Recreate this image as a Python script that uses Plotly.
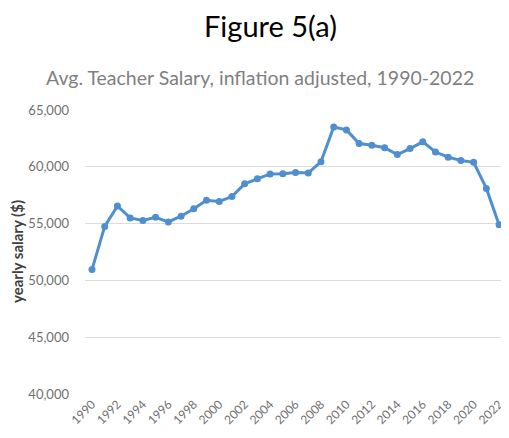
import plotly.graph_objects as go

# data
years = list(range(1990, 2023))
salary = [50950, 54750, 56550, 55500, 55280, 55550, 55150, 55650, 56300, 57050,
          56950, 57380, 58500, 58950, 59370, 59380, 59500, 59450, 60450, 63500,
          63250, 62050, 61900, 61680, 61080, 61600, 62200, 61300, 60850, 60550,
          60400, 58100, 54900]
year_ticks = list(range(1990, 2023, 2))
salary_ticks = [40000, 45000, 50000, 55000, 60000, 65000]

# the page body has an 8px margin, so the figure is drawn 8px in from the window edge
# and kept small enough that the page never scrolls
OFF = 8
W, H = 509 - 2 * OFF, 438 - 2 * OFF
L, R, T = 85 - OFF, 0, 110 - OFF
B = H - (394 - OFF)
pw, ph = W - L - R, H - T - B


def px(x):
    return (x - OFF - L) / pw


def py(y):
    return (H - B - (y - OFF)) / ph


fig = go.Figure()
fig.add_trace(go.Scatter(
    x=years, y=salary, mode='lines+markers',
    line=dict(color='#4f8fcf', width=3),
    marker=dict(color='#4f8fcf', size=7, symbol='circle'),
    hoverinfo='skip', showlegend=False, cliponaxis=False,
))

fig.update_layout(
    width=W, height=H,
    margin=dict(l=L, r=R, t=T, b=B, autoexpand=False),
    paper_bgcolor='white', plot_bgcolor='white',
    font=dict(family='Lato', color='#595959'),
    xaxis=dict(
        range=[1989.45, 2022.15],
        tickvals=year_ticks, ticktext=[str(y) for y in year_ticks],
        tickangle=-45, tickfont=dict(size=12, color='#707070'),
        ticklabeloverflow='allow',
        showgrid=False, zeroline=False, showline=False, ticks='',
        automargin=False,
    ),
    yaxis=dict(
        range=[40000, 65000],
        tickvals=salary_ticks, tickformat=',d',
        tickfont=dict(size=13, color='#707070'),
        showgrid=True, gridcolor='#dcdcdc', gridwidth=1,
        zeroline=False, showline=False, ticks='', ticklabelstandoff=15,
        automargin=False,
    ),
    annotations=[
        dict(text='Figure 5(a)', x=px(270), y=py(25),
             xref='paper', yref='paper', showarrow=False,
             font=dict(family='Lato', size=29, color='#000000'),
             xanchor='center', yanchor='middle'),
        dict(text='Avg. Teacher Salary, inflation adjusted, 1990-2022',
             x=px(260), y=py(77),
             xref='paper', yref='paper', showarrow=False,
             font=dict(family='Lato', size=19.5, color='#7f7f7f'),
             xanchor='center', yanchor='middle'),
        dict(text='<b>yearly salary ($)</b>', x=px(17), y=0.5,
             xref='paper', yref='paper', showarrow=False, textangle=-90,
             font=dict(family='Lato', size=15, color='#404040'),
             xanchor='center', yanchor='middle'),
    ],
)

fig.write_html("out.html")
